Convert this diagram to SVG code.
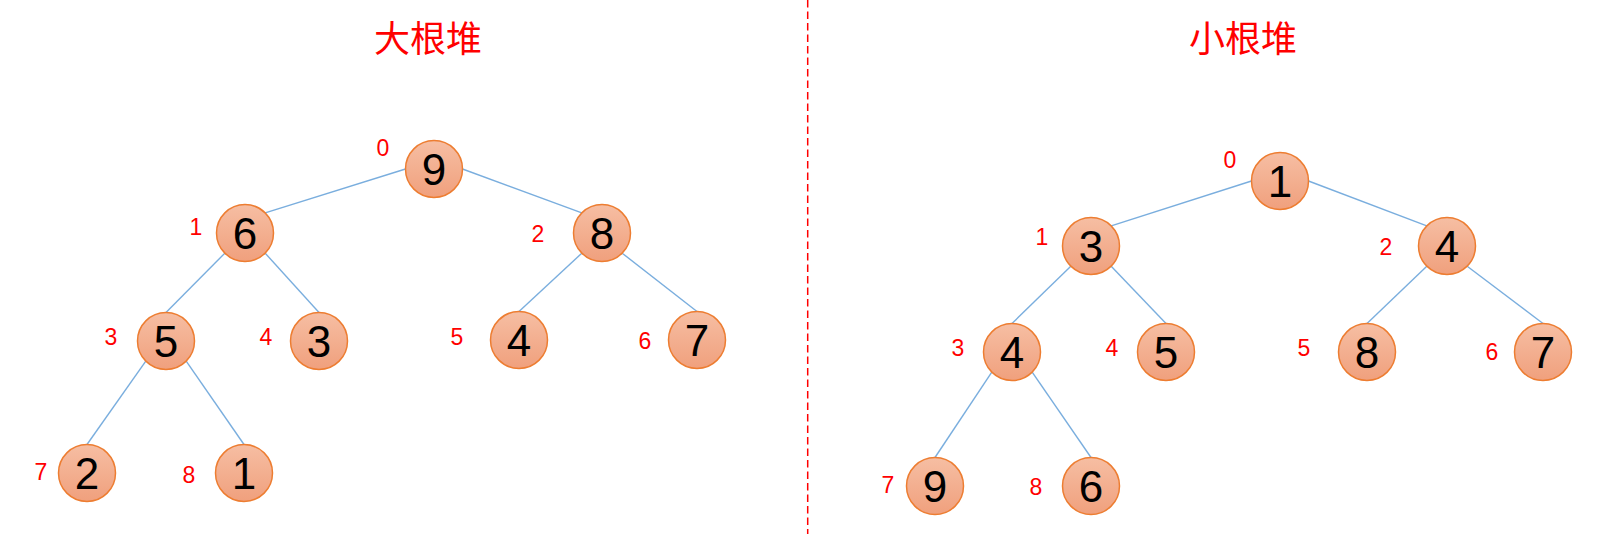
<svg xmlns="http://www.w3.org/2000/svg" width="1606" height="534" viewBox="0 0 1606 534">
<defs>
<linearGradient id="g" x1="0" y1="0" x2="0" y2="1">
<stop offset="0" stop-color="#f6bea3"/>
<stop offset="1" stop-color="#f0a07d"/>
</linearGradient>
<style>
.n circle{fill:url(#g);stroke:#ed7d31;stroke-width:1.5}
.n text{font-family:"Liberation Sans","Open Sans",sans-serif;font-size:44px;fill:#000;text-anchor:middle}
.idx{font-family:"Liberation Sans","Open Sans",sans-serif;font-size:23px;fill:#ff0000;text-anchor:middle}
.title{font-family:"Noto Sans CJK SC","Liberation Sans",sans-serif;font-size:36px;fill:#ff0000;text-anchor:middle}
.e line{stroke:#7aaede;stroke-width:1.4}
</style>
</defs>
<rect width="1606" height="534" fill="#fff"/>
<text class="title" x="428" y="52">大根堆</text>
<text class="title" x="1243" y="52">小根堆</text>
<line x1="807.7" y1="0" x2="807.7" y2="534" stroke="#ff0000" stroke-width="1.5" stroke-dasharray="7.5,4"/>
<g id="connectors" class="e">
<line x1="405.5" y1="169" x2="265.2" y2="212.8"/>
<line x1="462.5" y1="169" x2="581.8" y2="212.8"/>
<line x1="224.8" y1="253.2" x2="166" y2="312.5"/>
<line x1="265.2" y1="253.2" x2="319" y2="312.5"/>
<line x1="581.8" y1="253.2" x2="519" y2="311.5"/>
<line x1="622.2" y1="253.2" x2="697" y2="311.5"/>
<line x1="145.8" y1="361.2" x2="87" y2="444.5"/>
<line x1="186.2" y1="361.2" x2="244" y2="444.5"/>
<line x1="1251.5" y1="181" x2="1111.2" y2="225.8"/>
<line x1="1308.5" y1="181" x2="1426.8" y2="225.8"/>
<line x1="1070.8" y1="266.2" x2="1012" y2="323.5"/>
<line x1="1111.2" y1="266.2" x2="1166" y2="323.5"/>
<line x1="1426.8" y1="266.2" x2="1367" y2="323.5"/>
<line x1="1467.2" y1="266.2" x2="1543" y2="323.5"/>
<line x1="991.8" y1="372.2" x2="935" y2="457.5"/>
<line x1="1032.2" y1="372.2" x2="1091" y2="457.5"/>
</g>
<g id="L0" class="n"><circle cx="434" cy="169" r="28.5"/><text x="434" y="184.5">9</text></g>
<g id="L1" class="n"><circle cx="245" cy="233" r="28.5"/><text x="245" y="248.5">6</text></g>
<g id="L2" class="n"><circle cx="602" cy="233" r="28.5"/><text x="602" y="248.5">8</text></g>
<g id="L3" class="n"><circle cx="166" cy="341" r="28.5"/><text x="166" y="356.5">5</text></g>
<g id="L4" class="n"><circle cx="319" cy="341" r="28.5"/><text x="319" y="356.5">3</text></g>
<g id="L5" class="n"><circle cx="519" cy="340" r="28.5"/><text x="519" y="355.5">4</text></g>
<g id="L6" class="n"><circle cx="697" cy="340" r="28.5"/><text x="697" y="355.5">7</text></g>
<g id="L7" class="n"><circle cx="87" cy="473" r="28.5"/><text x="87" y="488.5">2</text></g>
<g id="L8" class="n"><circle cx="244" cy="473" r="28.5"/><text x="244" y="488.5">1</text></g>
<g id="R0" class="n"><circle cx="1280" cy="181" r="28.5"/><text x="1280" y="196.5">1</text></g>
<g id="R1" class="n"><circle cx="1091" cy="246" r="28.5"/><text x="1091" y="261.5">3</text></g>
<g id="R2" class="n"><circle cx="1447" cy="246" r="28.5"/><text x="1447" y="261.5">4</text></g>
<g id="R3" class="n"><circle cx="1012" cy="352" r="28.5"/><text x="1012" y="367.5">4</text></g>
<g id="R4" class="n"><circle cx="1166" cy="352" r="28.5"/><text x="1166" y="367.5">5</text></g>
<g id="R5" class="n"><circle cx="1367" cy="352" r="28.5"/><text x="1367" y="367.5">8</text></g>
<g id="R6" class="n"><circle cx="1543" cy="352" r="28.5"/><text x="1543" y="367.5">7</text></g>
<g id="R7" class="n"><circle cx="935" cy="486" r="28.5"/><text x="935" y="501.5">9</text></g>
<g id="R8" class="n"><circle cx="1091" cy="486" r="28.5"/><text x="1091" y="501.5">6</text></g>
<g id="indices">
<text class="idx" x="383" y="156">0</text>
<text class="idx" x="196" y="235">1</text>
<text class="idx" x="538" y="242">2</text>
<text class="idx" x="111" y="345">3</text>
<text class="idx" x="266" y="345">4</text>
<text class="idx" x="457" y="345">5</text>
<text class="idx" x="645" y="349">6</text>
<text class="idx" x="41" y="480">7</text>
<text class="idx" x="189" y="483">8</text>
<text class="idx" x="1230" y="168">0</text>
<text class="idx" x="1042" y="245">1</text>
<text class="idx" x="1386" y="255">2</text>
<text class="idx" x="958" y="356">3</text>
<text class="idx" x="1112" y="356">4</text>
<text class="idx" x="1304" y="356">5</text>
<text class="idx" x="1492" y="360">6</text>
<text class="idx" x="888" y="493">7</text>
<text class="idx" x="1036" y="495">8</text>
</g>
</svg>
